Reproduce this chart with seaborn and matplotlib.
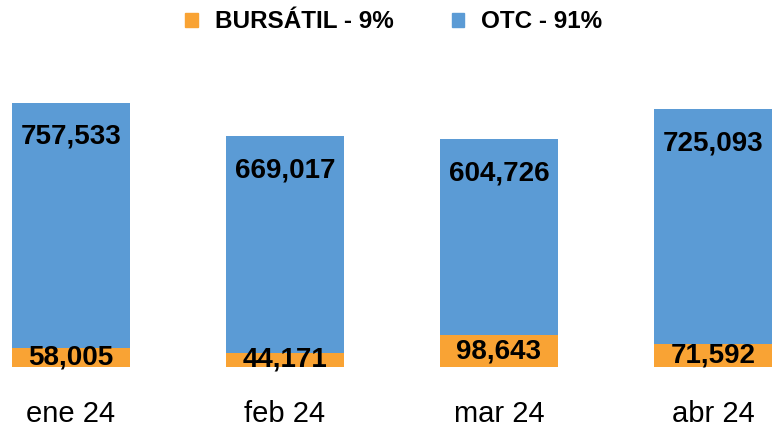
import matplotlib.pyplot as plt
import pandas as pd
import seaborn as sns
from matplotlib.patches import Patch

months = ["ene 24", "feb 24", "mar 24", "abr 24"]
bursatil = [58005, 44171, 98643, 71592]
otc = [757533, 669017, 604726, 725093]
legend_labels = ["BURSÁTIL - 9%", "OTC - 91%"]

ORANGE = "#F9A334"
BLUE = "#5B9BD5"

sns.set_theme(style="white")
plt.rcParams["font.family"] = ["Liberation Sans", "DejaVu Sans"]
plt.rcParams["text.color"] = "black"

df = pd.DataFrame({"mes": months, "bursatil": bursatil, "otc": otc})
df["total"] = df["bursatil"] + df["otc"]

fig = plt.figure(figsize=(7.72, 4.29), dpi=100)
ax = fig.add_axes([0.0, (429 - 367) / 429, 1.0, 277 / 429])

sns.barplot(data=df, x="mes", y="total", color=BLUE, width=0.55,
            saturation=1, linewidth=0, ax=ax)
sns.barplot(data=df, x="mes", y="bursatil", color=ORANGE, width=0.55,
            saturation=1, linewidth=0, ax=ax)

ax.set_xlim(-0.332, 3.276)
ax.set_ylim(0, 855700)

for i, row in df.iterrows():
    ax.text(i, row["total"] - 105000, f"{row['otc']:,}", ha="center",
            va="center", fontsize=20, fontweight="bold", color="black")
    ax.text(i, row["bursatil"] / 2, f"{row['bursatil']:,}", ha="center",
            va="center", fontsize=20, fontweight="bold", color="black")

ax.set_xlabel("")
ax.set_ylabel("")
ax.set_yticks([])
ax.tick_params(axis="x", length=0, pad=24, labelsize=21, labelcolor="black")
sns.despine(ax=ax, left=True, bottom=True)

handles = [Patch(color=ORANGE), Patch(color=BLUE)]
fig.legend(handles, legend_labels, loc="center", ncol=2,
           bbox_to_anchor=(0.51, 1 - 22 / 429), frameon=False,
           prop={"size": 17.5, "weight": "bold"},
           handlelength=0.5, handleheight=0.5, handletextpad=0.7,
           columnspacing=2.4)

fig.savefig("out.png", dpi=100)
